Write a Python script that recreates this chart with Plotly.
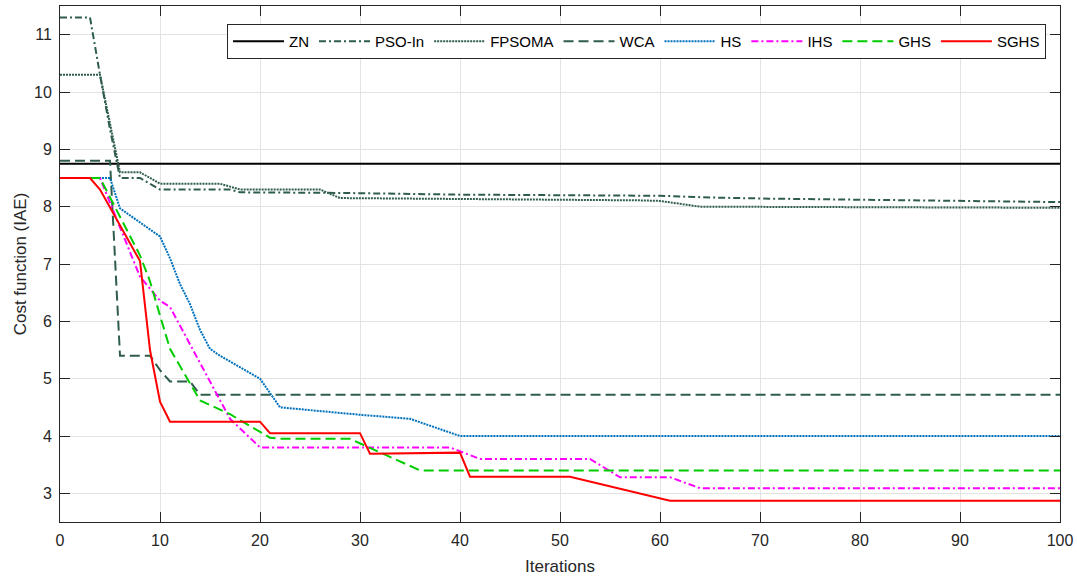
import plotly.graph_objects as go

# Convergence of the cost function (IAE) over 100 iterations for each tuning method.
# Each series is given by its iteration points and the cost value at those points.

zn_it = [0, 100]
zn = [8.75, 8.75]

pso_it = [0, 3, 4, 5, 6, 8, 10, 17, 18, 27, 28, 40, 60, 65, 71, 100]
pso = [11.3, 11.3, 10.3, 9.35, 8.5, 8.5, 8.3, 8.3, 8.25, 8.25, 8.24, 8.21, 8.19, 8.16, 8.14, 8.08]

fpsoma_it = [0, 4, 5, 6, 8, 10, 16, 18, 26, 28, 58, 60, 64, 100]
fpsoma = [10.3, 10.3, 9.45, 8.6, 8.6, 8.4, 8.4, 8.3, 8.3, 8.15, 8.11, 8.1, 8.0, 7.98]

wca_it = [0, 5, 6, 8, 9, 10, 11, 13, 14, 100]
wca = [8.8, 8.8, 5.4, 5.4, 5.4, 5.15, 4.95, 4.95, 4.72, 4.72]

hs_it = [0, 5, 6, 10, 11, 12, 13, 14, 15, 16, 17, 18, 19, 20, 21, 22, 30, 35, 40, 100]
hs = [8.5, 8.5, 7.97, 7.48, 7.1, 6.65, 6.3, 5.85, 5.52, 5.4, 5.3, 5.2, 5.1, 5.0, 4.75, 4.5,
      4.37, 4.3, 4.0, 4.0]

ihs_it = [0, 4, 8, 10, 11, 17, 20, 39, 42, 53, 56, 61, 64, 100]
ihs = [8.5, 8.5, 6.78, 6.36, 6.25, 4.3, 3.8, 3.8, 3.6, 3.6, 3.28, 3.28, 3.09, 3.09]

ghs_it = [0, 4, 8, 9, 10, 11, 14, 17, 21, 22, 29, 36, 100]
ghs = [8.5, 8.5, 7.15, 6.7, 6.1, 5.52, 4.62, 4.38, 3.97, 3.95, 3.95, 3.4, 3.4]

sghs_it = [0, 3, 4, 8, 9, 10, 11, 20, 21, 30, 31, 40, 41, 51, 61, 100]
sghs = [8.5, 8.5, 8.3, 7.05, 5.5, 4.6, 4.25, 4.25, 4.05, 4.05, 3.69, 3.71, 3.29, 3.29, 2.87, 2.87]

DARK = "#2f5d4b"
series = [
    ("ZN", zn_it, zn, "#000000", "solid"),
    ("PSO-In", pso_it, pso, DARK, "7px,3px,2px,3px"),
    ("FPSOMA", fpsoma_it, fpsoma, DARK, "2px,1px"),
    ("WCA", wca_it, wca, DARK, "10px,5px"),
    ("HS", hs_it, hs, "#0072bd", "2px,1px"),
    ("IHS", ihs_it, ihs, "#ff00ff", "7px,3px,2px,3px"),
    ("GHS", ghs_it, ghs, "#00cc00", "10px,5px"),
    ("SGHS", sghs_it, sghs, "#ff0000", "solid"),
]

fig = go.Figure()
for name, xs, ys, color, dash in series:
    fig.add_trace(go.Scatter(
        x=xs, y=ys, name=name, mode="lines",
        line=dict(color=color, width=2, dash=dash),
    ))

FONT = "Liberation Sans, Arial, Helvetica, sans-serif"
INK = "#262626"
axis_common = dict(
    showline=True, linecolor=INK, linewidth=1, mirror="allticks",
    ticks="inside", ticklen=10, tickcolor=INK, tickwidth=1,
    showgrid=True, gridcolor="#e3e3e3", gridwidth=1, zeroline=False,
    tickfont=dict(family=FONT, size=16, color=INK),
    automargin=False,
)

fig.update_layout(
    width=1077, height=576,
    margin=dict(l=60, r=17, t=6, b=54),
    paper_bgcolor="white", plot_bgcolor="white",
    font=dict(family=FONT, color=INK),
    xaxis=dict(range=[0, 100], tickvals=list(range(0, 101, 10)),
               title=dict(text="Iterations", font=dict(family=FONT, size=17, color=INK), standoff=11),
               ticklabelstandoff=4, **axis_common),
    yaxis=dict(range=[2.5, 11.5], tickvals=list(range(3, 12)),
               title=dict(text="Cost function (IAE)", font=dict(family=FONT, size=17, color=INK), standoff=3),
               ticklabelstandoff=4, **axis_common),
    legend=dict(
        orientation="h", x=0.986, xanchor="right", y=0.965, yanchor="top",
        bgcolor="white", bordercolor=INK, borderwidth=1,
        font=dict(family=FONT, size=15, color="#000000"),
        itemwidth=51, tracegroupgap=0,
    ),
    showlegend=True,
)

fig.write_html("out.html")
